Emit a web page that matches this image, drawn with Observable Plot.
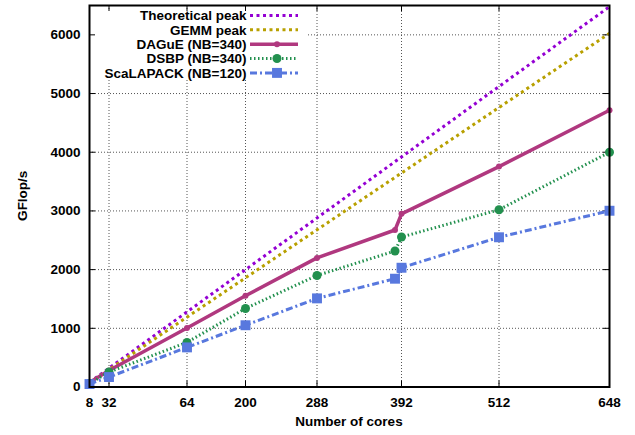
<!DOCTYPE html>
<html><head><meta charset="utf-8">
<script src="https://cdn.jsdelivr.net/npm/d3@7"></script>
<script src="https://cdn.jsdelivr.net/npm/@observablehq/plot@0.6"></script>
<style>body{margin:0;background:#fff}</style>
</head><body><div id="chart"></div>
<script>
const cores = [8, 32, 128, 200, 288, 384, 392, 512, 648];
const theoreticalPeak = [80, 320, 1280, 2000, 2880, 3840, 3920, 5120, 6480];
const gemmPeak = [74, 298, 1190, 1860, 2678, 3571, 3646, 4762, 6026];
const dague = [75, 280, 1005, 1555, 2200, 2675, 2950, 3755, 4715];
const dsbp = [60, 255, 760, 1338, 1900, 2317, 2555, 3020, 4000];
const scalapack = [50, 170, 675, 1052, 1510, 1845, 2032, 2551, 3003];
const seriesNames = ["Theoretical peak", "GEMM peak", "DAGuE (NB=340)", "DSBP (NB=340)", "ScaLAPACK (NB=120)"];
const xTicks = [8, 32, 128, 200, 288, 392, 512, 648];
const xTickLabels = ["8", "32", "64", "200", "288", "392", "512", "648"];
const yTicks = [0, 1000, 2000, 3000, 4000, 5000, 6000];
const xTitle = "Number of cores";
const yTitle = "GFlop/s";

const seriesValues = [theoreticalPeak, gemmPeak, dague, dsbp, scalapack];
const styles = [
  {color: "#9400d3", width: 3, dash: "3,3.5", marker: null},
  {color: "#b8a000", width: 3, dash: "3,3.5", marker: null},
  {color: "#b0387f", width: 3.5, dash: null, marker: "circle", r: 3},
  {color: "#22904e", width: 3, dash: "1.5,2.5", marker: "circle", r: 4.5},
  {color: "#5878de", width: 3, dash: "7,3,2,3", marker: "square", r: 5.6}
];
const rows = seriesValues.map((vals, i) => cores.map((c, j) => ({series: seriesNames[i], cores: c, gflops: vals[j]})));

const W = 635, H = 435, mL = 89, mR = 26, mT = 5, mB = 48.5;
const innerW = W - mL - mR, innerH = H - mT - mB, tick = 6;
const font = "'Liberation Sans', Arial, sans-serif";

const marks = [
  Plot.ruleX(xTicks, {x: d => d, stroke: "#555", strokeDasharray: "1,2"}),
  Plot.ruleY(yTicks, {y: d => d, stroke: "#555", strokeDasharray: "1,2"}),
  Plot.ruleX(xTicks, {x: d => d, stroke: "black", insetTop: innerH - tick}),
  Plot.ruleX(xTicks, {x: d => d, stroke: "black", insetBottom: innerH - tick}),
  Plot.ruleY(yTicks, {y: d => d, stroke: "black", insetRight: innerW - tick}),
  Plot.ruleY(yTicks, {y: d => d, stroke: "black", insetLeft: innerW - tick})
];
rows.forEach((r, i) => {
  const s = styles[i];
  marks.push(Plot.line(r, {x: "cores", y: "gflops", stroke: s.color, strokeWidth: s.width, strokeDasharray: s.dash, strokeLinecap: "butt"}));
  if (s.marker) marks.push(Plot.dot(r, {x: "cores", y: "gflops", fill: s.color, r: s.r, symbol: s.marker}));
});
marks.push(Plot.frame({stroke: "black", strokeWidth: 2}));
marks.push(Plot.axisX({ticks: xTicks, tickFormat: d => xTickLabels[xTicks.indexOf(d)], tickSize: 0, tickPadding: 10, label: null}));
marks.push(Plot.axisY({ticks: yTicks, tickFormat: d => String(d), tickSize: 0, tickPadding: 9, label: null}));

const chart = Plot.plot({
  width: W, height: H,
  marginLeft: mL, marginRight: mR, marginTop: mT, marginBottom: mB,
  x: {type: "linear", domain: [8, 648]},
  y: {domain: [0, 6500]},
  style: {fontFamily: font, fontSize: "13.5px", fontWeight: "bold", color: "black", background: "white", overflow: "visible"},
  marks
});
document.getElementById("chart").appendChild(chart);

const svg = d3.select(chart);
const groups = svg.selectAll(":scope > g").nodes();
// opaque legend box behind ticks, above grid
const bg = document.createElementNS("http://www.w3.org/2000/svg", "rect");
bg.setAttribute("x", 92); bg.setAttribute("y", 11); bg.setAttribute("width", 214); bg.setAttribute("height", 67);
bg.setAttribute("fill", "white");
groups[1].after(bg);

// legend
const lg = svg.append("g").attr("font-family", font).attr("font-size", "13.5px").attr("font-weight", "bold");
seriesNames.forEach((name, i) => {
  const s = styles[i];
  const y = 15.5 + i * 14.35;
  lg.append("text").attr("x", 246.5).attr("y", y).attr("dy", "0.35em").attr("text-anchor", "end").attr("fill", "black").text(name);
  lg.append("line").attr("x1", 250).attr("x2", 298).attr("y1", y).attr("y2", y)
    .attr("stroke", s.color).attr("stroke-width", s.width).attr("stroke-dasharray", s.dash);
  if (s.marker === "circle") lg.append("circle").attr("cx", 277).attr("cy", y).attr("r", s.r).attr("fill", s.color);
  if (s.marker === "square") {
    const side = s.r * Math.sqrt(Math.PI);
    lg.append("rect").attr("x", 277 - side / 2).attr("y", y - side / 2).attr("width", side).attr("height", side).attr("fill", s.color);
  }
});

// axis titles
svg.append("text").attr("x", mL + innerW / 2).attr("y", 426).attr("text-anchor", "middle")
  .attr("font-family", font).attr("font-size", "13.5px").attr("font-weight", "bold").attr("fill", "black").text(xTitle);
svg.append("text").attr("transform", `translate(27,${mT + innerH / 2}) rotate(-90)`).attr("text-anchor", "middle")
  .attr("font-family", font).attr("font-size", "13.5px").attr("font-weight", "bold").attr("fill", "black").text(yTitle);
</script>
</body></html>
